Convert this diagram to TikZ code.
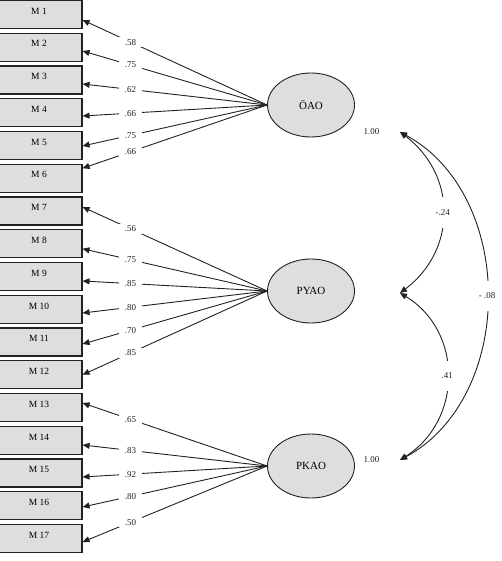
\documentclass[tikz,border=0pt]{standalone}
\usepackage{fontspec}
\setmainfont{Liberation Serif}
\usepackage{tikz}
\usetikzlibrary{arrows.meta,positioning,shapes.geometric}
\definecolor{boxfillc}{HTML}{DEDEDE}
\definecolor{linec}{HTML}{222222}
\tikzset{
  itemnode/.style={rectangle, draw=linec, fill=boxfillc, line width=1.1pt,
    minimum width=86pt, minimum height=28pt, inner sep=0pt,
    text height=6.5pt, text depth=7pt, font=\fontsize{9.5}{11}\selectfont},
  factornode/.style={ellipse, draw=linec, fill=boxfillc, line width=0.9pt,
    minimum width=87pt, minimum height=64pt, inner sep=0pt,
    font=\fontsize{11}{13}\selectfont},
  loadedge/.style={-{Triangle[length=7pt, width=6pt]}, draw=linec, line width=0.9pt},
  covedge/.style={{Triangle[length=7pt, width=6pt]}-{Triangle[length=7pt, width=6pt]},
    draw=linec, line width=0.9pt},
  loadlabel/.style={fill=white, inner xsep=6pt, inner ysep=2pt,
    font=\fontsize{9}{11}\selectfont, text=linec},
  covlabel/.style={fill=white, inner xsep=2pt, inner ysep=12pt,
    font=\fontsize{9}{11}\selectfont, text=linec},
}

\begin{document}
\begin{tikzpicture}[x=1pt, y=-1pt]
  \useasboundingbox (0,0) rectangle (501,561);
  % observed items
  \node[itemnode] (m1) at (39,14.5) {M 1};
  \node[itemnode] (m2) at (39,47.25) {M 2};
  \node[itemnode] (m3) at (39,80) {M 3};
  \node[itemnode] (m4) at (39,112.75) {M 4};
  \node[itemnode] (m5) at (39,145.5) {M 5};
  \node[itemnode] (m6) at (39,178.25) {M 6};
  \node[itemnode] (m7) at (39,211) {M 7};
  \node[itemnode] (m8) at (39,243.75) {M 8};
  \node[itemnode] (m9) at (39,276.5) {M 9};
  \node[itemnode] (m10) at (39,309.25) {M 10};
  \node[itemnode] (m11) at (39,342) {M 11};
  \node[itemnode] (m12) at (39,374.75) {M 12};
  \node[itemnode] (m13) at (39,407.5) {M 13};
  \node[itemnode] (m14) at (39,440.25) {M 14};
  \node[itemnode] (m15) at (39,473) {M 15};
  \node[itemnode] (m16) at (39,505.75) {M 16};
  \node[itemnode] (m17) at (39,538.5) {M 17};
  % latent factors
  \node[factornode] (oao) at (311,105) {ÖAO};
  \node[factornode] (pyao) at (311,291) {PYAO};
  \node[factornode] (pkao) at (311,466) {PKAO};
  % loadings
  \draw[loadedge] (oao.west) -- ([yshift=-5.5pt]m1.east) node[pos=0.74, loadlabel] {.58};
  \draw[loadedge] (oao.west) -- ([yshift=-3.75pt]m2.east) node[pos=0.74, loadlabel] {.75};
  \draw[loadedge] (oao.west) -- ([yshift=-4pt]m3.east) node[pos=0.74, loadlabel] {.62};
  \draw[loadedge] (oao.west) -- ([yshift=-3.25pt]m4.east) node[pos=0.74, loadlabel] {.66};
  \draw[loadedge] (oao.west) -- ([yshift=-0.5pt]m5.east) node[pos=0.74, loadlabel] {.75};
  \draw[loadedge] (oao.west) -- ([yshift=10pt]m6.east) node[pos=0.74, loadlabel] {.66};
  \draw[loadedge] (pyao.west) -- ([yshift=4pt]m7.east) node[pos=0.74, loadlabel] {.56};
  \draw[loadedge] (pyao.west) -- ([yshift=-5pt]m8.east) node[pos=0.74, loadlabel] {.75};
  \draw[loadedge] (pyao.west) -- ([yshift=-4.5pt]m9.east) node[pos=0.74, loadlabel] {.85};
  \draw[loadedge] (pyao.west) -- ([yshift=-3.75pt]m10.east) node[pos=0.74, loadlabel] {.80};
  \draw[loadedge] (pyao.west) -- ([yshift=-2pt]m11.east) node[pos=0.74, loadlabel] {.70};
  \draw[loadedge] (pyao.west) -- (m12.east) node[pos=0.74, loadlabel] {.85};
  \draw[loadedge] (pkao.west) -- ([yshift=4.5pt]m13.east) node[pos=0.74, loadlabel] {.65};
  \draw[loadedge] (pkao.west) -- ([yshift=-4.75pt]m14.east) node[pos=0.74, loadlabel] {.83};
  \draw[loadedge] (pkao.west) -- ([yshift=-4pt]m15.east) node[pos=0.74, loadlabel] {.92};
  \draw[loadedge] (pkao.west) -- ([yshift=-1.25pt]m16.east) node[pos=0.74, loadlabel] {.80};
  \draw[loadedge] (pkao.west) -- ([yshift=-3.5pt]m17.east) node[pos=0.74, loadlabel] {.50};
  % covariances
  \coordinate (t1) at (400,132);
  \coordinate (t2) at (400,293);
  \coordinate (t3) at (400,460);
  \node[font=\fontsize{9}{11}\selectfont, text=linec, left=17pt of t1] (v1) {1.00};
  \node[font=\fontsize{9}{11}\selectfont, text=linec, left=17pt of t3] (v3) {1.00};
  \draw[covedge] (t1) .. controls +(57,43) and +(57,-43) .. (t2)
    node[midway, covlabel] {-.24};
  \draw[covedge] (t2) .. controls +(63,38) and +(63,-40) .. (t3)
    node[midway, covlabel] {.41};
  \draw[covedge] (t1) .. controls +(116,63) and +(116,-63) .. (t3)
    node[midway, covlabel] {- .08};
\end{tikzpicture}
\end{document}
